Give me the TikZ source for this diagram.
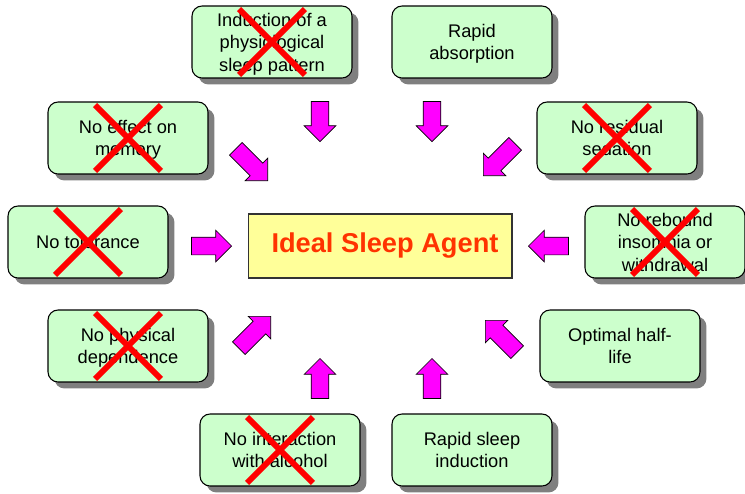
\documentclass[tikz,border=0pt]{standalone}
\usepackage{fontspec}
\setsansfont{Liberation Sans}
\usepackage{tikz}
\usetikzlibrary{shapes.arrows,shapes.misc,shadows}
\definecolor{boxgreen}{HTML}{CCFFCC}
\definecolor{idealyellow}{HTML}{FFFF99}
\definecolor{idealred}{HTML}{FF3300}
\definecolor{arrowpink}{HTML}{FF00FF}
\tikzset{
  treenode/.style = {align=center, inner sep=1pt, text centered,
    font=\sffamily\fontsize{10.4}{12.8}\selectfont},
  propbox/.style = {treenode, rectangle, rounded corners=0.2cm, draw=black,
    line width=0.6pt, fill=boxgreen, minimum width=3.2cm, minimum height=1.44cm,
    text depth=0pt,
    drop shadow={shadow xshift=0.13cm, shadow yshift=-0.13cm, fill=black,
      opacity=0.5}},% propriete de l'agent
  idealbox/.style = {rectangle, draw=black!80, line width=0.6pt,
    fill=idealyellow, minimum width=5.28cm, minimum height=1.28cm,
    text=idealred, font=\sffamily\bfseries\fontsize{15.5}{18}\selectfont},
  blockarrow/.style = {single arrow, draw=black, fill=arrowpink, line width=0.4pt,
    inner sep=0.17cm, minimum height=0.8cm, single arrow head extend=0.14cm},
  crossmark/.style = {cross out, draw=red, line width=3.4pt,
    minimum size=1.2cm, inner sep=0pt}% propriete non remplie
}
\begin{document}
\begin{tikzpicture}[x=0.02cm, y=-0.02cm]
\useasboundingbox (0,0) rectangle (745,494);
\node [idealbox] (ideal) at (380,246) {\hspace*{0.2cm}Ideal Sleep Agent};
% upper row
\node [propbox] (induct) at (272,42) {Induction of a\\physiological\\sleep pattern};
\node [propbox] (absorb) at (472,42) {Rapid\\absorption};
\node [propbox] (memory) at (128,138) {No effect on\\memory};
\node [propbox] (resid) at (617,138) {No residual\\sedation};
% middle row
\node [propbox] (toler) at (88,242) {No tolerance};
\node [propbox] (rebound) at (665,242) {No rebound\\insomnia or\\withdrawal};
% lower row
\node [propbox] (depend) at (128,346) {No physical\\dependence};
\node [propbox] (halflife) at (620,346) {Optimal half-\\life};
\node [propbox] (alcohol) at (280,450) {No interaction\\with alcohol};
\node [propbox] (sleepind) at (472,450) {Rapid sleep\\induction};
% arrows towards the ideal agent
\foreach \x/\y/\r/\l [count=\i] in {320/142/-90/0.8, 432/142/-90/0.8,
    268/181/-45/0.9, 483/176/-135/0.9, 232/246/0/0.8, 528/246/180/0.8,
    271/316/45/0.9, 485/320/135/0.9, 320/358/90/0.8, 432/358/90/0.8}
  \node [blockarrow, minimum height=\l cm, rotate=\r, anchor=tip] (arr\i) at (\x,\y) {};
% crossed out
\foreach \n in {induct, memory, resid, toler, rebound, depend, alcohol}
  \node [crossmark] (x-\n) at (\n) {};
\end{tikzpicture}
\end{document}
